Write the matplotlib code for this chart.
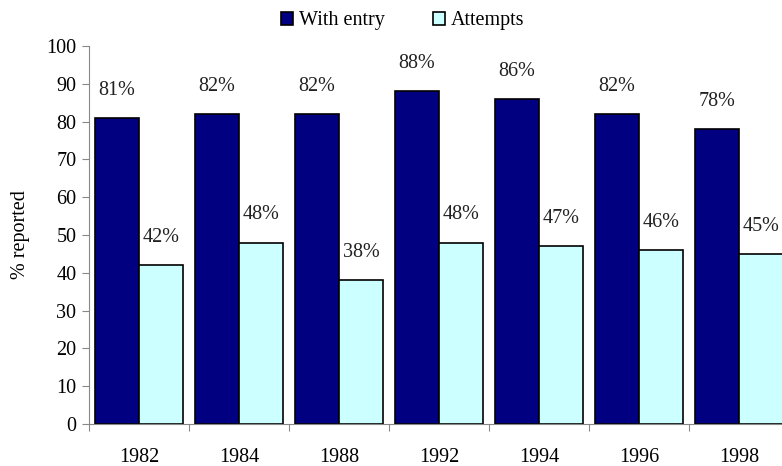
import matplotlib.pyplot as plt
import numpy as np

years = ["1982", "1984", "1988", "1992", "1994", "1996", "1998"]
with_entry = [81, 82, 82, 88, 86, 82, 78]
attempts = [42, 48, 38, 48, 47, 46, 45]

plt.rcParams['font.family'] = ['Liberation Serif', 'DejaVu Serif']

fig = plt.figure(figsize=(7.82, 4.66), dpi=100)
ax = fig.add_axes([0.1138, 0.0901, 0.8951, 0.8112])

x = np.arange(len(years))
w = 0.44
b1 = ax.bar(x + 0.5 - w / 2, with_entry, w, color='#000080', edgecolor='black',
            linewidth=1.2, label='With entry')
b2 = ax.bar(x + 0.5 + w / 2, attempts, w, color='#ccffff', edgecolor='black',
            linewidth=1.2, label='Attempts')

for bars, vals in ((b1, with_entry), (b2, attempts)):
    for r, v in zip(bars, vals):
        ax.annotate("%d%%" % v, (r.get_x() + r.get_width() / 2, v),
                    xytext=(0, 20), textcoords='offset points',
                    ha='center', va='center', fontsize=14.5, color='#222222')

ax.set_xlim(0, 7)
ax.set_ylim(0, 100)
ax.set_yticks(range(0, 101, 10))
ax.set_xticks(range(0, 8))
ax.set_xticklabels([])
ax.set_xticks(x + 0.5, minor=True)
ax.set_xticklabels(years, minor=True)
ax.tick_params(axis='x', which='minor', length=0, labelsize=14.5, pad=17)
ax.tick_params(axis='x', which='major', length=5, color='#888888', direction='out')
ax.tick_params(axis='y', length=5, color='#888888', labelsize=14.5, pad=4)

for s in ('top', 'right'):
    ax.spines[s].set_visible(False)
for s in ('left', 'bottom'):
    ax.spines[s].set_color('#888888')

ax.set_ylabel("% reported", fontsize=14.5, labelpad=12)

fig.legend(handles=[b1, b2], loc='center', bbox_to_anchor=(0.515, 0.955), ncol=2,
           frameon=False, fontsize=14.5, handlelength=0.6, handleheight=0.6,
           handletextpad=0.3, columnspacing=2.4)

fig.savefig("out.png", dpi=100)
